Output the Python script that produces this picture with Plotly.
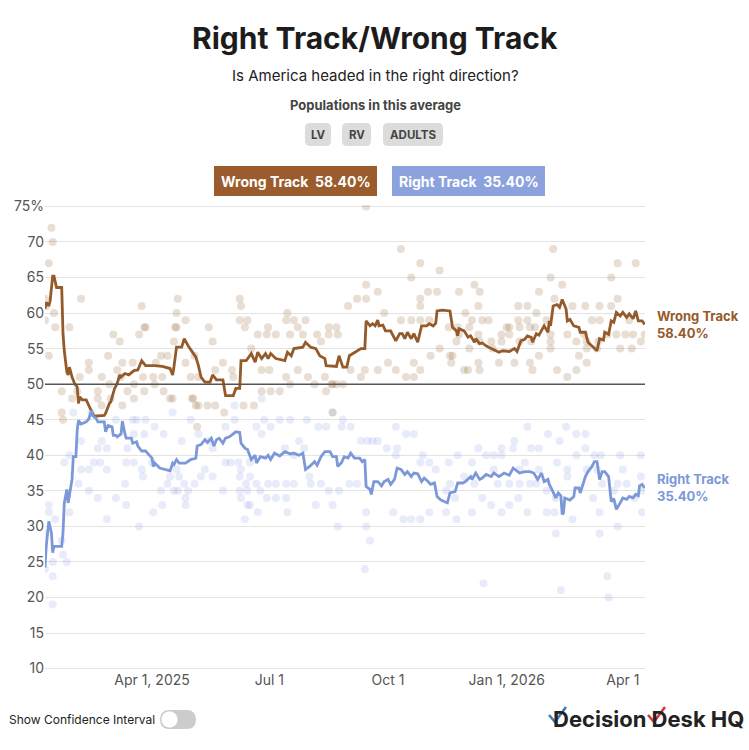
import plotly.graph_objects as go

# trend lines (polling average)
wrong_dates = [
    "2025-01-08", "2025-01-09", "2025-01-11", "2025-01-12", "2025-01-14", "2025-01-15", "2025-01-17", "2025-01-21",
    "2025-01-22", "2025-01-23", "2025-01-25", "2025-01-26", "2025-01-27", "2025-01-29", "2025-01-31", "2025-02-02",
    "2025-02-03", "2025-02-04", "2025-02-06", "2025-02-09", "2025-02-11", "2025-02-14", "2025-02-15", "2025-02-23",
    "2025-02-24", "2025-02-27", "2025-02-28", "2025-03-03", "2025-03-05", "2025-03-07", "2025-03-08", "2025-03-11",
    "2025-03-14", "2025-03-18", "2025-03-21", "2025-03-24", "2025-03-27", "2025-04-03", "2025-04-09", "2025-04-15",
    "2025-04-17", "2025-04-18", "2025-04-20", "2025-04-24", "2025-04-26", "2025-04-29", "2025-05-03", "2025-05-05",
    "2025-05-07", "2025-05-09", "2025-05-12", "2025-05-16", "2025-05-18", "2025-05-21", "2025-05-26", "2025-05-27",
    "2025-05-28", "2025-06-03", "2025-06-05", "2025-06-08", "2025-06-09", "2025-06-13", "2025-06-17", "2025-06-20",
    "2025-06-22", "2025-06-25", "2025-06-28", "2025-06-30", "2025-07-02", "2025-07-06", "2025-07-13", "2025-07-15",
    "2025-07-18", "2025-07-20", "2025-07-27", "2025-07-29", "2025-08-02", "2025-08-06", "2025-08-09", "2025-08-13",
    "2025-08-14", "2025-08-22", "2025-08-24", "2025-08-27", "2025-08-30", "2025-09-01", "2025-09-05", "2025-09-07",
    "2025-09-10", "2025-09-13", "2025-09-14", "2025-09-17", "2025-09-19", "2025-09-21", "2025-09-23", "2025-09-24",
    "2025-09-27", "2025-09-29", "2025-10-03", "2025-10-07", "2025-10-10", "2025-10-12", "2025-10-14", "2025-10-16",
    "2025-10-19", "2025-10-21", "2025-10-24", "2025-10-27", "2025-10-31", "2025-11-02", "2025-11-05", "2025-11-07",
    "2025-11-08", "2025-11-12", "2025-11-18", "2025-11-20", "2025-11-23", "2025-11-24", "2025-11-25", "2025-11-29",
    "2025-12-02", "2025-12-04", "2025-12-07", "2025-12-08", "2025-12-11", "2025-12-13", "2025-12-16", "2025-12-20",
    "2025-12-24", "2025-12-26", "2025-12-29", "2026-01-03", "2026-01-07", "2026-01-09", "2026-01-12", "2026-01-15",
    "2026-01-17", "2026-01-20", "2026-01-21", "2026-01-24", "2026-01-26", "2026-01-28", "2026-01-30", "2026-02-02",
    "2026-02-03", "2026-02-04", "2026-02-06", "2026-02-09", "2026-02-11", "2026-02-13", "2026-02-16", "2026-02-17",
    "2026-02-19", "2026-02-22", "2026-02-26", "2026-02-27", "2026-03-03", "2026-03-05", "2026-03-08", "2026-03-10",
    "2026-03-12", "2026-03-14", "2026-03-17", "2026-03-18", "2026-03-21", "2026-03-23", "2026-03-25", "2026-03-27",
    "2026-03-30", "2026-04-01", "2026-04-04", "2026-04-06", "2026-04-09", "2026-04-11", "2026-04-13", "2026-04-16",
    "2026-04-18",
]
wrong_avg = [
    60.6, 61.5, 61.0, 61.7, 65.2, 65.2, 63.6, 63.6,
    57.1, 54.7, 51.7, 51.3, 52.4, 51.0, 50.1, 49.6,
    47.3, 48.2, 47.8, 47.8, 47.0, 45.9, 45.5, 45.6,
    45.9, 47.3, 47.5, 49.4, 50.1, 51.3, 51.0, 51.5,
    51.3, 51.9, 52.0, 53.3, 52.6, 52.6, 52.5, 52.2,
    51.3, 52.4, 55.2, 55.2, 56.4, 55.4, 54.3, 53.8,
    52.6, 51.0, 50.3, 50.3, 51.3, 50.6, 50.6, 49.6,
    48.4, 48.4, 49.4, 49.4, 53.3, 53.3, 54.3, 53.1,
    54.5, 53.6, 54.3, 53.6, 54.3, 53.6, 53.3, 54.5,
    54.0, 55.0, 55.2, 55.9, 55.2, 55.0, 54.0, 53.6,
    52.6, 52.5, 54.0, 52.4, 52.4, 54.0, 54.5, 54.7,
    55.0, 55.0, 58.9, 58.2, 58.5, 58.2, 59.0, 58.2,
    58.3, 57.5, 57.5, 56.1, 57.1, 57.1, 56.4, 57.3,
    56.4, 57.1, 55.9, 58.2, 58.2, 58.5, 58.2, 58.6,
    60.3, 60.4, 60.3, 58.0, 57.5, 56.8, 57.8, 57.5,
    56.6, 56.8, 55.9, 56.4, 55.7, 55.8, 55.4, 55.0,
    54.7, 54.5, 54.7, 54.6, 55.0, 54.6, 56.1, 56.3,
    56.8, 56.6, 55.9, 57.1, 56.9, 57.5, 58.2, 57.3,
    58.9, 58.2, 61.0, 61.2, 60.8, 61.9, 60.6, 58.9,
    59.1, 58.2, 58.0, 57.3, 57.3, 55.9, 55.4, 55.0,
    54.7, 56.4, 56.2, 57.3, 57.0, 58.9, 58.7, 60.1,
    59.6, 60.1, 59.4, 59.9, 59.2, 60.3, 58.9, 58.9,
    58.4,
]

right_dates = [
    "2025-01-08", "2025-01-09", "2025-01-11", "2025-01-13", "2025-01-14", "2025-01-15", "2025-01-21", "2025-01-22",
    "2025-01-23", "2025-01-25", "2025-01-26", "2025-01-29", "2025-01-30", "2025-02-01", "2025-02-02", "2025-02-03",
    "2025-02-05", "2025-02-09", "2025-02-11", "2025-02-13", "2025-02-14", "2025-02-17", "2025-02-18", "2025-02-23",
    "2025-02-24", "2025-02-26", "2025-03-01", "2025-03-02", "2025-03-04", "2025-03-05", "2025-03-08", "2025-03-09",
    "2025-03-11", "2025-03-12", "2025-03-16", "2025-03-17", "2025-03-20", "2025-03-21", "2025-03-24", "2025-03-27",
    "2025-03-29", "2025-04-01", "2025-04-02", "2025-04-03", "2025-04-07", "2025-04-12", "2025-04-15", "2025-04-17",
    "2025-04-18", "2025-04-20", "2025-04-22", "2025-04-27", "2025-05-01", "2025-05-05", "2025-05-06", "2025-05-09",
    "2025-05-12", "2025-05-14", "2025-05-17", "2025-05-19", "2025-05-21", "2025-05-23", "2025-05-26", "2025-05-28",
    "2025-05-31", "2025-06-05", "2025-06-08", "2025-06-09", "2025-06-12", "2025-06-14", "2025-06-17", "2025-06-20",
    "2025-06-21", "2025-06-24", "2025-06-28", "2025-06-30", "2025-07-02", "2025-07-05", "2025-07-09", "2025-07-13",
    "2025-07-17", "2025-07-20", "2025-07-24", "2025-07-27", "2025-07-29", "2025-08-01", "2025-08-05", "2025-08-07",
    "2025-08-10", "2025-08-13", "2025-08-17", "2025-08-19", "2025-08-22", "2025-08-23", "2025-08-26", "2025-08-28",
    "2025-08-31", "2025-09-02", "2025-09-05", "2025-09-09", "2025-09-11", "2025-09-13", "2025-09-14", "2025-09-17",
    "2025-09-18", "2025-09-20", "2025-09-23", "2025-09-26", "2025-09-28", "2025-10-01", "2025-10-03", "2025-10-06",
    "2025-10-08", "2025-10-11", "2025-10-14", "2025-10-16", "2025-10-19", "2025-10-21", "2025-10-24", "2025-10-27",
    "2025-10-29", "2025-11-01", "2025-11-03", "2025-11-06", "2025-11-08", "2025-11-11", "2025-11-14", "2025-11-16",
    "2025-11-18", "2025-11-22", "2025-11-24", "2025-11-28", "2025-11-30", "2025-12-04", "2025-12-05", "2025-12-08",
    "2025-12-11", "2025-12-13", "2025-12-16", "2025-12-20", "2025-12-22", "2025-12-26", "2025-12-30", "2026-01-03",
    "2026-01-06", "2026-01-08", "2026-01-11", "2026-01-15", "2026-01-19", "2026-01-22", "2026-01-25", "2026-01-28",
    "2026-01-30", "2026-02-02", "2026-02-03", "2026-02-05", "2026-02-08", "2026-02-10", "2026-02-12", "2026-02-13",
    "2026-02-14", "2026-02-15", "2026-02-19", "2026-02-22", "2026-02-23", "2026-02-26", "2026-02-27", "2026-03-03",
    "2026-03-05", "2026-03-08", "2026-03-10", "2026-03-12", "2026-03-14", "2026-03-16", "2026-03-18", "2026-03-21",
    "2026-03-23", "2026-03-25", "2026-03-27", "2026-03-30", "2026-04-01", "2026-04-04", "2026-04-06", "2026-04-09",
    "2026-04-11", "2026-04-13", "2026-04-14", "2026-04-16", "2026-04-18",
]
right_avg = [
    24.2, 27.2, 30.7, 29.1, 26.3, 27.2, 27.2, 29.1,
    33.3, 35.2, 33.3, 36.6, 39.8, 39.8, 43.5, 44.9,
    44.4, 44.7, 45.1, 46.3, 45.6, 45.1, 44.7, 44.7,
    43.3, 44.2, 44.0, 42.8, 42.8, 42.6, 43.0, 44.8,
    43.0, 42.4, 42.4, 41.7, 41.9, 41.3, 40.6, 40.6,
    40.2, 39.6, 38.4, 38.9, 38.2, 38.0, 37.8, 38.9,
    38.7, 39.4, 38.9, 38.9, 39.4, 39.6, 41.3, 41.5,
    42.2, 41.8, 42.4, 41.3, 42.2, 42.4, 41.7, 42.4,
    42.6, 43.3, 43.2, 41.7, 41.0, 40.8, 39.4, 40.0,
    38.9, 39.8, 39.6, 40.0, 39.4, 40.3, 39.9, 40.5,
    40.2, 40.3, 40.0, 40.3, 38.0, 38.4, 39.1, 38.6,
    39.8, 40.5, 40.5, 39.8, 39.8, 38.4, 39.0, 39.8,
    39.6, 40.3, 39.6, 39.6, 39.1, 39.4, 35.6, 35.2,
    34.5, 36.3, 36.3, 35.7, 36.3, 36.6, 35.9, 36.6,
    38.2, 38.0, 37.3, 37.7, 37.0, 37.5, 37.4, 36.3,
    36.8, 36.3, 35.9, 36.1, 34.2, 33.7, 33.5, 33.3,
    34.7, 34.9, 36.1, 36.1, 36.3, 37.0, 36.6, 37.5,
    36.6, 36.8, 37.3, 37.0, 37.5, 37.0, 37.5, 37.2,
    38.2, 37.9, 37.5, 37.7, 37.7, 37.5, 36.6, 37.5,
    36.3, 36.6, 35.9, 35.2, 34.0, 34.7, 34.3, 31.7,
    31.9, 34.0, 33.7, 34.2, 35.4, 35.4, 34.7, 37.0,
    37.7, 38.4, 39.1, 39.1, 36.6, 37.7, 37.7, 37.0,
    33.5, 33.9, 32.4, 33.3, 34.0, 33.8, 34.2, 34.0,
    34.5, 34.3, 35.7, 35.9, 35.4,
]

# individual polls
wrong_poll_dates = [
    "2025-01-11", "2025-01-08", "2025-01-09", "2025-01-08", "2025-01-15", "2025-01-16", "2025-01-11", "2025-01-27",
    "2025-01-21", "2025-01-22", "2025-01-29", "2025-01-13", "2025-01-14", "2025-01-21",
    "2025-02-05", "2025-02-11", "2025-02-11", "2025-02-04", "2025-02-02", "2025-02-18", "2025-02-21", "2025-02-18",
    "2025-02-21", "2025-02-26", "2025-02-27", "2025-02-28",
    "2025-03-07", "2025-03-02", "2025-03-05", "2025-03-09", "2025-03-13", "2025-03-09", "2025-03-08", "2025-03-17",
    "2025-03-18", "2025-03-22", "2025-03-27", "2025-03-24", "2025-03-25", "2025-03-18", "2025-03-26", "2025-03-26",
    "2025-04-02", "2025-04-03", "2025-04-04", "2025-04-08", "2025-04-09", "2025-04-10", "2025-04-13", "2025-04-15",
    "2025-04-17", "2025-04-18", "2025-04-20", "2025-04-21", "2025-04-20", "2025-04-27", "2025-04-27", "2025-04-19",
    "2025-05-01", "2025-05-02", "2025-05-05", "2025-05-04", "2025-05-07", "2025-05-15", "2025-05-18", "2025-05-26",
    "2025-05-20", "2025-05-03", "2025-05-07", "2025-05-14", "2025-05-20", "2025-05-27", "2025-05-06",
    "2025-06-08", "2025-06-09", "2025-06-14", "2025-06-08", "2025-06-12", "2025-06-22", "2025-06-30", "2025-06-29",
    "2025-06-03", "2025-06-02", "2025-06-17", "2025-06-25", "2025-06-25", "2025-06-11", "2025-06-19",
    "2025-07-06", "2025-07-15", "2025-07-14", "2025-07-20", "2025-07-23", "2025-07-29", "2025-07-17", "2025-07-27",
    "2025-07-01", "2025-07-02", "2025-07-09", "2025-07-14", "2025-07-17", "2025-07-23", "2025-07-31",
    "2025-08-07", "2025-08-16", "2025-08-23", "2025-08-31", "2025-08-22", "2025-08-05", "2025-08-10", "2025-08-13",
    "2025-08-19", "2025-08-22", "2025-08-19", "2025-08-16", "2025-08-14", "2025-08-18", "2025-08-27",
    "2025-09-14", "2025-09-14", "2025-09-23", "2025-09-07", "2025-09-14", "2025-09-13", "2025-09-23", "2025-09-10",
    "2025-09-02", "2025-09-28",
    "2025-10-11", "2025-10-26", "2025-10-19", "2025-10-26", "2025-10-26", "2025-10-01", "2025-10-07", "2025-10-15",
    "2025-10-21", "2025-10-21", "2025-10-26", "2025-10-11", "2025-10-19", "2025-10-26",
    "2025-11-10", "2025-11-01", "2025-11-08", "2025-11-02", "2025-11-03", "2025-11-10", "2025-11-25", "2025-11-17",
    "2025-11-24", "2025-11-25", "2025-11-30", "2025-11-23", "2025-11-18", "2025-11-20", "2025-11-19", "2025-11-29",
    "2025-12-07", "2025-12-11", "2025-12-10", "2025-12-05", "2025-12-13", "2025-12-18", "2025-12-03", "2025-12-10",
    "2025-12-11", "2025-12-20", "2025-12-28", "2025-12-03", "2025-12-21", "2025-12-10", "2025-12-26", "2025-12-11",
    "2025-12-02", "2025-12-28",
    "2026-01-26", "2026-01-10", "2026-01-17", "2026-01-24", "2026-01-10", "2026-01-17", "2026-01-01", "2026-01-03",
    "2026-01-11", "2026-01-19", "2026-01-23", "2026-01-03", "2026-01-11", "2026-01-20", "2026-01-26", "2026-01-07",
    "2026-01-19", "2026-01-21",
    "2026-02-06", "2026-02-04", "2026-02-13", "2026-02-07", "2026-02-01", "2026-02-21", "2026-02-04", "2026-02-17",
    "2026-02-04", "2026-02-24", "2026-02-04", "2026-02-26", "2026-02-09", "2026-02-17", "2026-02-24",
    "2026-03-28", "2026-03-23", "2026-03-28", "2026-03-03", "2026-03-14", "2026-03-23", "2026-03-08", "2026-03-14",
    "2026-03-02", "2026-03-20", "2026-03-27", "2026-03-04", "2026-03-13", "2026-03-04", "2026-03-12", "2026-03-30",
    "2026-03-04",
    "2026-04-11", "2026-04-06", "2026-04-03", "2026-04-09", "2026-04-18", "2026-04-15", "2026-04-08",
]
wrong_poll_vals = [
    67, 62, 61, 59, 60, 58, 54, 58,
    49, 45, 48, 72, 70, 46,
    62, 53, 52, 51, 49, 49, 51, 48,
    47, 54, 50, 48,
    56, 57, 52, 53, 49, 47, 51, 53,
    50, 57, 58, 61, 51, 48, 49, 58,
    51, 50, 53, 54, 51, 49, 54, 48,
    48, 56, 60, 62, 58, 59, 53, 58,
    51, 48, 47, 54, 51, 58, 56, 53,
    52, 48, 47, 47, 47, 46, 44,
    62, 61, 59, 59, 58, 57, 58, 57,
    51, 52, 55, 52, 49, 47, 47,
    57, 60, 59, 59, 58, 59, 57, 57,
    52, 49, 49, 51, 50, 52, 51,
    57, 57, 57, 61, 58, 50, 56, 51,
    50, 50, 46, 58, 49, 50, 50,
    75, 64, 63, 62, 62, 52, 52, 51,
    52, 60,
    69, 67, 65, 62, 61, 53, 52, 51,
    51, 53, 52, 59, 59, 59,
    66, 63, 63, 59, 54, 55, 63, 58,
    58, 57, 60, 56, 54, 54, 53, 52,
    64, 63, 61, 59, 59, 59, 58, 57,
    56, 56, 56, 55, 55, 53, 53, 52,
    52, 57,
    63, 61, 61, 60, 59, 59, 58, 58,
    58, 58, 58, 57, 56, 56, 54, 53,
    53, 52,
    69, 65, 64, 62, 59, 61, 57, 57,
    56, 56, 55, 54, 52, 51, 52,
    67, 65, 62, 61, 61, 61, 59, 59,
    57, 57, 57, 56, 56, 55, 55, 55,
    53,
    67, 59, 57, 57, 57, 56, 55,
]

right_poll_dates = [
    "2025-01-08", "2025-01-08", "2025-01-11", "2025-01-11", "2025-01-14", "2025-01-14", "2025-01-14", "2025-01-16",
    "2025-01-21", "2025-01-22", "2025-01-23", "2025-01-25", "2025-01-27", "2025-01-27", "2025-01-30",
    "2025-02-03", "2025-02-05", "2025-02-05", "2025-02-11", "2025-02-11", "2025-02-13", "2025-02-18", "2025-02-18",
    "2025-02-20", "2025-02-15", "2025-02-21", "2025-02-25", "2025-02-25", "2025-02-25",
    "2025-03-04", "2025-03-04", "2025-03-11", "2025-03-12", "2025-03-12", "2025-03-13", "2025-03-17", "2025-03-18",
    "2025-03-20", "2025-03-18", "2025-03-22", "2025-03-24", "2025-03-25", "2025-03-27", "2025-03-26",
    "2025-04-01", "2025-04-02", "2025-04-03", "2025-04-08", "2025-04-09", "2025-04-10", "2025-04-13", "2025-04-15",
    "2025-04-17", "2025-04-18", "2025-04-21", "2025-04-22", "2025-04-20", "2025-04-24", "2025-04-26", "2025-04-27",
    "2025-04-27", "2025-04-29",
    "2025-05-01", "2025-05-04", "2025-05-07", "2025-05-09", "2025-05-12", "2025-05-15", "2025-05-18", "2025-05-18",
    "2025-05-26", "2025-05-28", "2025-05-28",
    "2025-06-01", "2025-06-04", "2025-06-08", "2025-06-09", "2025-06-08", "2025-06-09", "2025-06-12", "2025-06-13",
    "2025-06-14", "2025-06-04", "2025-06-25", "2025-06-27", "2025-06-21", "2025-06-25", "2025-06-16", "2025-06-07",
    "2025-06-16", "2025-06-21", "2025-06-30", "2025-06-14", "2025-06-24", "2025-06-16", "2025-06-29", "2025-06-22",
    "2025-07-09", "2025-07-17", "2025-07-30", "2025-07-02", "2025-07-24", "2025-07-13", "2025-07-28", "2025-07-20",
    "2025-07-06", "2025-07-14", "2025-07-20", "2025-07-06", "2025-07-14", "2025-07-15",
    "2025-08-19", "2025-08-27", "2025-08-08", "2025-08-14", "2025-08-26", "2025-08-01", "2025-08-02", "2025-08-10",
    "2025-08-16", "2025-08-24", "2025-08-06", "2025-08-19", "2025-08-23",
    "2025-09-02", "2025-09-10", "2025-09-15", "2025-09-19", "2025-09-23", "2025-09-30", "2025-09-01", "2025-09-07",
    "2025-09-14", "2025-09-14", "2025-09-13", "2025-09-17",
    "2025-10-07", "2025-10-15", "2025-10-21", "2025-10-08", "2025-10-07", "2025-10-28", "2025-10-26", "2025-10-05",
    "2025-10-13", "2025-10-19", "2025-10-26",
    "2025-11-02", "2025-11-07", "2025-11-02", "2025-11-24", "2025-11-17", "2025-11-18", "2025-11-29", "2025-11-15",
    "2025-11-22", "2025-11-15", "2025-11-23",
    "2025-12-10", "2025-12-28", "2025-12-16", "2025-12-22", "2025-12-28", "2025-12-05", "2025-12-22", "2025-12-07",
    "2025-12-25", "2025-12-13", "2025-12-05", "2025-12-20", "2025-12-28", "2025-12-14",
    "2026-01-17", "2026-01-07", "2026-01-06", "2026-01-20", "2026-01-26", "2026-01-11", "2026-01-15", "2026-01-26",
    "2026-01-03", "2026-01-11", "2026-01-19", "2026-01-24", "2026-01-10", "2026-01-03", "2026-01-17",
    "2026-02-02", "2026-02-16", "2026-02-24", "2026-02-11", "2026-02-09", "2026-02-17", "2026-02-24", "2026-02-17",
    "2026-02-01", "2026-02-08", "2026-02-01", "2026-02-07", "2026-02-21", "2026-02-12", "2026-02-08",
    "2026-03-03", "2026-03-03", "2026-03-10", "2026-03-15", "2026-03-30", "2026-03-04", "2026-03-12", "2026-03-16",
    "2026-03-28", "2026-03-09", "2026-03-25", "2026-03-14", "2026-03-28", "2026-03-21", "2026-03-20", "2026-03-14",
    "2026-04-15", "2026-04-01", "2026-04-15", "2026-04-04", "2026-04-10", "2026-04-16", "2026-04-16",
]
right_poll_vals = [
    24, 29, 33, 32, 23, 19, 25, 31,
    28, 26, 39, 25, 32, 40, 46,
    36, 42, 38, 38, 35, 46, 34, 41,
    39, 39, 42, 31, 38, 41,
    34, 45, 36, 39, 33, 41, 45, 39,
    45, 43, 30, 38, 37, 45, 43,
    39, 32, 44, 35, 33, 43, 36, 37,
    46, 35, 35, 37, 38, 42, 36, 34,
    33, 35,
    45, 36, 43, 37, 38, 42, 41, 37,
    35, 44, 39,
    39, 45, 37, 38, 35, 34, 31, 36,
    33, 47, 48, 45, 44, 43, 39, 39,
    37, 36, 36, 35, 35, 33, 34, 32,
    45, 45, 45, 44, 42, 41, 41, 40,
    36, 36, 36, 34, 34, 32,
    46, 45, 44, 44, 44, 37, 36, 36,
    35, 35, 33, 33, 30,
    44, 42, 42, 42, 42, 41, 36, 36,
    32, 30, 24, 28,
    44, 43, 43, 41, 40, 40, 39, 32,
    31, 31, 31,
    39, 38, 32, 40, 39, 36, 37, 35,
    34, 32, 31,
    41, 41, 40, 40, 40, 39, 38, 36,
    36, 34, 32, 33, 32, 22,
    44, 42, 41, 41, 41, 38, 39, 38,
    36, 36, 36, 36, 34, 33, 32,
    43, 44, 43, 42, 39, 38, 40, 37,
    35, 34, 32, 32, 31, 21, 29,
    43, 41, 40, 40, 40, 38, 38, 36,
    36, 34, 35, 32, 30, 20, 23, 29,
    40, 38, 37, 36, 34, 35, 32,
]

y_ticks = [10, 15, 20, 25, 30, 35, 40, 45, 50, 55, 60, 65, 70, 75]
y_labels = ["10", "15", "20", "25", "30", "35", "40", "45", "50", "55", "60", "65", "70", "75%"]
x_ticks = ["2025-04-01", "2025-07-01", "2025-10-01", "2026-01-01", "2026-04-01"]
x_labels = ["Apr 1, 2025", "Jul 1", "Oct 1", "Jan 1, 2026", "Apr 1"]

BROWN = "#955a2a"
BLUE = "#7d98d9"

# plot area in pixels: x 45..645, y 205..670
def X(px):
    return (px - 45) / 600

def Y(py):
    return (670 - py) / 465

def rounded(x0, y0, x1, y1, r):
    pts = [
        ("M", x0 + r, y0), ("L", x1 - r, y0), ("Q", x1, y0, x1, y0 + r),
        ("L", x1, y1 - r), ("Q", x1, y1, x1 - r, y1), ("L", x0 + r, y1),
        ("Q", x0, y1, x0, y1 - r), ("L", x0, y0 + r), ("Q", x0, y0, x0 + r, y0),
    ]
    out = ""
    for p in pts:
        if p[0] == "Q":
            out += f"Q{X(p[1]):.4f},{Y(p[2]):.4f} {X(p[3]):.4f},{Y(p[4]):.4f} "
        else:
            out += f"{p[0]}{X(p[1]):.4f},{Y(p[2]):.4f} "
    return out + "Z"

fig = go.Figure()
fig.add_trace(go.Scatter(x=wrong_poll_dates, y=wrong_poll_vals, mode="markers",
                         marker=dict(size=8, color="rgba(150,105,60,0.22)"), hoverinfo="skip"))
fig.add_trace(go.Scatter(x=right_poll_dates, y=right_poll_vals, mode="markers",
                         marker=dict(size=8, color="rgba(125,150,225,0.18)"), hoverinfo="skip"))
fig.add_trace(go.Scatter(x=wrong_dates, y=wrong_avg, mode="lines", name="Wrong Track",
                         line=dict(color=BROWN, width=2.8), cliponaxis=False))
fig.add_trace(go.Scatter(x=right_dates, y=right_avg, mode="lines", name="Right Track",
                         line=dict(color=BLUE, width=2.8), cliponaxis=False))

shapes = [
    dict(type="line", xref="paper", yref="y", x0=0, x1=1, y0=50, y1=50,
         line=dict(color="#555555", width=1.5)),
    # legend boxes
    dict(type="rect", xref="paper", yref="paper", x0=X(214), x1=X(377), y0=Y(196), y1=Y(166),
         fillcolor="#9a5c2c", line=dict(width=0)),
    dict(type="rect", xref="paper", yref="paper", x0=X(392), x1=X(545), y0=Y(196), y1=Y(166),
         fillcolor="#8ba2de", line=dict(width=0)),
    # population pills
    dict(type="path", xref="paper", yref="paper", path=rounded(305, 123, 331, 146, 5),
         fillcolor="#dcdcdc", line=dict(width=0)),
    dict(type="path", xref="paper", yref="paper", path=rounded(342, 123, 371, 146, 5),
         fillcolor="#dcdcdc", line=dict(width=0)),
    dict(type="path", xref="paper", yref="paper", path=rounded(383, 123, 443, 146, 5),
         fillcolor="#dcdcdc", line=dict(width=0)),
    # toggle
    dict(type="path", xref="paper", yref="paper", path=rounded(160, 710, 196, 729, 9.5),
         fillcolor="#cccccc", line=dict(width=0)),
    dict(type="circle", xref="paper", yref="paper", x0=X(161), x1=X(178), y0=Y(728), y1=Y(711),
         fillcolor="white", line=dict(color="#bbbbbb", width=0.5)),
    # logo check marks
    dict(type="path", xref="paper", yref="paper",
         path=f"M{X(549):.4f},{Y(715):.4f} L{X(555):.4f},{Y(722):.4f} L{X(566):.4f},{Y(707):.4f}",
         line=dict(color="#3d79b8", width=2.5)),
    dict(type="path", xref="paper", yref="paper",
         path=f"M{X(648):.4f},{Y(715):.4f} L{X(654):.4f},{Y(722):.4f} L{X(665):.4f},{Y(707):.4f}",
         line=dict(color="#d0393b", width=2.5)),
]

ann = [
    dict(text="<b>Right Track/Wrong Track</b>", x=X(375), y=Y(38), font=dict(size=30, color="#1c1c1c")),
    dict(text="Is America headed in the right direction?", x=X(375), y=Y(75), font=dict(size=15, color="#222")),
    dict(text="<b>Populations in this average</b>", x=X(375), y=Y(105), font=dict(size=13, color="#444")),
    dict(text="<b>LV</b>", x=X(318), y=Y(134.5), font=dict(size=11.5, color="#444")),
    dict(text="<b>RV</b>", x=X(356.5), y=Y(134.5), font=dict(size=11.5, color="#444")),
    dict(text="<b>ADULTS</b>", x=X(413), y=Y(134.5), font=dict(size=11.5, color="#444")),
    dict(text="<b>Wrong Track  58.40%</b>", x=X(295.5), y=Y(181), font=dict(size=14, color="white")),
    dict(text="<b>Right Track  35.40%</b>", x=X(468.5), y=Y(181), font=dict(size=14, color="white")),
    dict(text="Show Confidence Interval", x=X(7), y=Y(719), xanchor="left", font=dict(size=12, color="#222")),
    dict(text="<b>Decision Desk HQ</b>", x=X(746), y=Y(719), xanchor="right",
         font=dict(size=22, color="#222")),
]
for a in ann:
    a.setdefault("xanchor", "center")
    a.update(xref="paper", yref="paper", yanchor="middle", showarrow=False)

ann.append(dict(text="<b>Wrong Track</b><br><b>58.40%</b>", xref="paper", yref="y", x=X(655), y=58.4,
                xanchor="left", yanchor="middle", align="left", showarrow=False,
                font=dict(size=13, color=BROWN)))
ann.append(dict(text="<b>Right Track</b><br><b>35.40%</b>", xref="paper", yref="y", x=X(655), y=35.4,
                xanchor="left", yanchor="middle", align="left", showarrow=False,
                font=dict(size=13, color=BLUE)))

fig.update_layout(
    width=749, height=750,
    margin=dict(l=45, r=104, t=205, b=80),
    plot_bgcolor="white", paper_bgcolor="white",
    showlegend=False,
    font=dict(family="Inter, Roboto, sans-serif", color="#555"),
    shapes=shapes, annotations=ann,
    xaxis=dict(type="date", range=["2025-01-08 01:00", "2026-04-18 05:00"],
               tickvals=x_ticks, ticktext=x_labels, showgrid=False, zeroline=False,
               showline=False, tickfont=dict(size=14, color="#555")),
    yaxis=dict(range=[9.8, 75.2], tickvals=y_ticks, ticktext=y_labels, showgrid=True,
               gridcolor="#e3e3e3", gridwidth=1, zeroline=False, showline=False,
               tickfont=dict(size=14, color="#555")),
)

fig.write_html("out.html", config={"displayModeBar": False},
               post_script="document.body.style.margin='0';")
